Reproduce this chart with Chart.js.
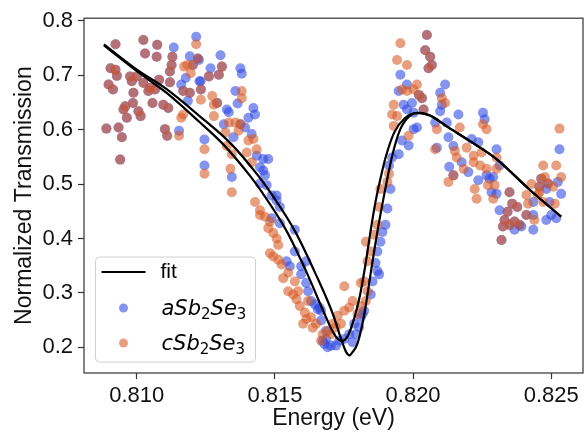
<!DOCTYPE html>
<html>
<head>
<meta charset="utf-8">
<script src="https://cdn.jsdelivr.net/npm/chart.js@4.4.0/dist/chart.umd.min.js"></script>
<style>
  html, body { margin: 0; padding: 0; background: #fff; }
  #wrap { width: 588px; height: 437px; }
</style>
</head>
<body>
<div id="wrap"><canvas id="chart" width="588" height="437"></canvas></div>
<script>
// axis ticks
const xTicks = [0.810, 0.815, 0.820, 0.825];
const yTicks = [0.2, 0.3, 0.4, 0.5, 0.6, 0.7, 0.8];

// points where both samples sit on top of each other
const sharedPoints = [
  [0.80890,0.602],[0.80923,0.757],[0.81024,0.765],[0.81074,0.756],[0.81030,0.740],
  [0.81072,0.734],[0.81129,0.734],[0.80905,0.713],[0.80923,0.710],[0.80928,0.699],
  [0.80898,0.683],[0.80914,0.674],[0.80976,0.698],[0.81000,0.698],[0.80982,0.689],
  [0.81024,0.686],[0.81048,0.677],[0.81066,0.674],[0.81042,0.671],[0.81120,0.687],
  [0.81126,0.719],[0.81120,0.707],[0.80988,0.668],[0.80986,0.649],[0.80958,0.643],
  [0.80952,0.637],[0.81006,0.634],[0.81014,0.625],[0.80964,0.622],[0.81057,0.649],
  [0.81096,0.646],[0.81114,0.640],[0.80934,0.604],[0.80946,0.586],[0.80940,0.545],
  [0.81102,0.601],[0.81110,0.589],[0.81081,0.692],
  [0.81203,0.719],[0.81221,0.731],[0.81168,0.671],[0.81192,0.668],[0.81232,0.674],
  [0.81308,0.716],[0.81261,0.698],[0.81297,0.701],[0.81291,0.649],[0.81375,0.610],
  [0.82050,0.774],[0.82044,0.746],[0.82062,0.734],[0.82068,0.719],[0.82056,0.713],
  [0.82032,0.658],[0.82021,0.664],[0.82038,0.637],[0.82146,0.516],[0.82342,0.449],
  [0.82359,0.464],[0.82377,0.458],[0.82331,0.434],[0.82367,0.431],[0.82385,0.425],
  [0.82349,0.425],[0.82325,0.422],[0.82320,0.397],[0.82410,0.443],[0.82349,0.485],
  [0.82464,0.510],[0.82489,0.501],[0.82457,0.495]
];

// aSb2Se3 only
const aPoints = [
  [0.81134,0.751],[0.81161,0.683],[0.81192,0.735],[0.81215,0.771],[0.81227,0.689],
  [0.81185,0.653],[0.81153,0.598],[0.81245,0.582],[0.81245,0.534],[0.81177,0.695],
  [0.81303,0.737],[0.81267,0.713],[0.81375,0.713],[0.81380,0.703],[0.81225,0.728],
  [0.81231,0.689],[0.81357,0.671],[0.81365,0.648],[0.81422,0.640],[0.81428,0.628],
  [0.81326,0.637],[0.81333,0.632],[0.81404,0.622],[0.81315,0.610],[0.81392,0.604],
  [0.81416,0.592],[0.81350,0.586],[0.81434,0.552],[0.81458,0.546],[0.81476,0.546],
  [0.81446,0.531],[0.81458,0.525],[0.81464,0.516],[0.81344,0.513],[0.81470,0.498],
  [0.81446,0.501],[0.81488,0.479],[0.81506,0.479],
  [0.81506,0.470],[0.81518,0.458],[0.81488,0.437],[0.81518,0.428],[0.81572,0.416],
  [0.81542,0.358],[0.81554,0.349],[0.81572,0.376],[0.81595,0.349],[0.81613,0.358],
  [0.81595,0.334],[0.81613,0.318],[0.81620,0.303],[0.81644,0.279],[0.81655,0.270],
  [0.81667,0.267],[0.81667,0.249],[0.81685,0.230],[0.81685,0.215],
  [0.81907,0.455],[0.81900,0.425],[0.81882,0.394],[0.81864,0.355],[0.81871,0.340],
  [0.81853,0.321],[0.81847,0.297],[0.81823,0.267],[0.81811,0.255],[0.81787,0.243],
  [0.81793,0.224],[0.81769,0.224],[0.81751,0.215],[0.81781,0.209],[0.81703,0.203],
  [0.81691,0.200],[0.81679,0.206],[0.81733,0.212],[0.81805,0.237],[0.81661,0.273],
  [0.81631,0.285],[0.81673,0.212],[0.81721,0.203],[0.81817,0.261],[0.81877,0.334],
  [0.81871,0.376],[0.81889,0.412],
  [0.81954,0.701],[0.81978,0.683],[0.81948,0.671],[0.81966,0.646],[0.81996,0.649],
  [0.81978,0.637],[0.82002,0.631],[0.82002,0.601],[0.82014,0.604],[0.81960,0.580],
  [0.81984,0.571],[0.81948,0.555],[0.81924,0.549],[0.81913,0.534],[0.81918,0.491],
  [0.82116,0.683],[0.82098,0.668],[0.82098,0.634],[0.82104,0.646],[0.82122,0.613],
  [0.82080,0.613],[0.82128,0.586],[0.82146,0.570],[0.82131,0.532],[0.82086,0.567],
  [0.82164,0.628],[0.82253,0.631],[0.82259,0.619],[0.82212,0.583],[0.82236,0.577],
  [0.82302,0.564],[0.82176,0.540],[0.82200,0.522],[0.82236,0.507],[0.82277,0.510],
  [0.82290,0.513],[0.82284,0.485],[0.82313,0.534],[0.82266,0.516],[0.82302,0.482],
  [0.82313,0.452],[0.82367,0.416],[0.82392,0.422],[0.82435,0.443],[0.82435,0.416],
  [0.82482,0.434],[0.82500,0.443],[0.82518,0.437],[0.82494,0.467],[0.82482,0.491],
  [0.82536,0.482],[0.82524,0.504],[0.82530,0.564],[0.82435,0.467]
];

// cSb2Se3 only
const cPoints = [
  [0.81215,0.757],[0.81161,0.622],[0.81168,0.628],[0.81232,0.655],[0.81153,0.589],
  [0.81245,0.564],[0.81245,0.519],[0.81171,0.716],[0.81183,0.719],[0.81195,0.704],
  [0.81380,0.671],[0.81380,0.658],[0.81273,0.662],[0.81279,0.646],[0.81279,0.625],
  [0.81333,0.613],[0.81357,0.613],[0.81368,0.598],[0.81321,0.595],[0.81404,0.580],
  [0.81422,0.583],[0.81434,0.564],[0.81398,0.558],[0.81326,0.570],[0.81344,0.555],
  [0.81416,0.540],[0.81339,0.528],[0.81344,0.485],
  [0.81428,0.467],[0.81446,0.452],[0.81446,0.443],[0.81464,0.440],[0.81482,0.431],
  [0.81476,0.419],[0.81494,0.410],[0.81506,0.400],[0.81512,0.388],[0.81482,0.373],
  [0.81494,0.367],[0.81512,0.361],[0.81524,0.352],[0.81530,0.327],[0.81548,0.337],
  [0.81572,0.321],[0.81548,0.303],[0.81566,0.297],[0.81578,0.288],[0.81584,0.303],
  [0.81590,0.276],[0.81608,0.264],[0.81614,0.252],[0.81602,0.243],[0.81631,0.255],
  [0.81637,0.236],[0.81649,0.243],[0.81620,0.285],
  [0.81877,0.458],[0.81871,0.425],[0.81859,0.407],[0.81829,0.394],[0.81835,0.358],
  [0.81847,0.376],[0.81823,0.321],[0.81811,0.318],[0.81751,0.312],[0.81835,0.303],
  [0.81781,0.285],[0.81769,0.273],[0.81811,0.276],[0.81751,0.267],[0.81799,0.261],
  [0.81727,0.258],[0.81739,0.243],[0.81709,0.243],[0.81721,0.237],[0.81691,0.230],
  [0.81673,0.224],[0.81667,0.212],[0.81703,0.224],[0.81829,0.285],
  [0.81954,0.759],[0.81942,0.728],[0.81978,0.719],[0.81930,0.646],[0.81960,0.674],
  [0.81978,0.671],[0.82002,0.674],[0.82014,0.683],[0.81924,0.628],[0.81942,0.625],
  [0.81930,0.607],[0.81984,0.589],[0.81913,0.519],[0.81882,0.491],[0.82086,0.601],
  [0.82116,0.649],[0.82104,0.658],[0.82080,0.564],[0.81907,0.504],
  [0.82169,0.604],[0.82253,0.610],[0.82266,0.601],[0.82151,0.561],[0.82194,0.567],
  [0.82302,0.549],[0.82128,0.504],[0.82183,0.528],[0.82158,0.549],[0.82219,0.540],
  [0.82243,0.534],[0.82266,0.528],[0.82223,0.491],[0.82230,0.473],[0.82271,0.498],
  [0.82295,0.498],[0.82290,0.473],[0.82302,0.528],[0.82248,0.558],[0.82219,0.552],
  [0.82410,0.480],[0.82416,0.464],[0.82439,0.434],[0.82428,0.500],[0.82457,0.485],
  [0.82471,0.534],[0.82477,0.513],[0.82518,0.534],[0.82536,0.513],[0.82507,0.495],
  [0.82513,0.464],[0.82530,0.602],[0.82471,0.467],[0.82451,0.480]
];

// fitted curves (one per sample)
const fitA = [
  [0.80881,0.755],[0.80999,0.708],[0.81107,0.668],[0.81225,0.615],[0.81313,0.573],
  [0.81410,0.515],[0.81453,0.485],[0.81543,0.413],[0.81618,0.334],[0.81679,0.262],
  [0.81710,0.228],[0.81728,0.215],[0.81742,0.211],[0.81756,0.215],[0.81772,0.230],
  [0.81806,0.291],[0.81828,0.353],[0.81846,0.413],[0.81864,0.467],[0.81882,0.510],
  [0.81900,0.548],[0.81932,0.595],[0.81968,0.620],[0.82014,0.631],[0.82061,0.626],
  [0.82122,0.606],[0.82212,0.577],[0.82302,0.546],[0.82419,0.491],[0.82536,0.440]
];
const fitC = [
  [0.80881,0.757],[0.80999,0.711],[0.81107,0.675],[0.81225,0.626],[0.81343,0.573],
  [0.81440,0.515],[0.81483,0.485],[0.81573,0.413],[0.81648,0.334],[0.81709,0.262],
  [0.81745,0.207],[0.81758,0.191],[0.81770,0.185],[0.81781,0.191],[0.81799,0.207],
  [0.81824,0.262],[0.81846,0.334],[0.81871,0.413],[0.81896,0.482],[0.81925,0.553],
  [0.81953,0.600],[0.81989,0.626],[0.82025,0.631],[0.82061,0.626],[0.82122,0.606],
  [0.82212,0.577],[0.82302,0.546],[0.82419,0.491],[0.82536,0.440]
];

const blue = 'rgba(45, 70, 225, 0.58)';
const orange = 'rgba(215, 90, 35, 0.58)';

const toXY = arr => arr.map(p => ({ x: p[0], y: p[1] }));

// frame around the plot + matplotlib-like legend
const frameLegend = {
  id: 'frameLegend',
  afterDatasetsDraw(chart) {
    const { ctx, chartArea: a } = chart;
    ctx.save();
    ctx.strokeStyle = '#333';
    ctx.lineWidth = 1.2;
    ctx.strokeRect(a.left, a.top, a.right - a.left, a.bottom - a.top);

    // legend box
    const bx = a.left + 11.5, by = a.bottom - 116, bw = 160, bh = 105;
    ctx.beginPath();
    ctx.roundRect(bx, by, bw, bh, 4);
    ctx.fillStyle = 'rgba(255,255,255,0.8)';
    ctx.fill();
    ctx.strokeStyle = '#d0d0d0';
    ctx.lineWidth = 1;
    ctx.stroke();

    // fit entry
    ctx.beginPath();
    ctx.moveTo(bx + 6, by + 15);
    ctx.lineTo(bx + 50, by + 15);
    ctx.strokeStyle = '#000';
    ctx.lineWidth = 2.2;
    ctx.stroke();
    ctx.fillStyle = '#000';
    ctx.textBaseline = 'middle';
    ctx.font = '21px "Liberation Sans", Arial, sans-serif';
    ctx.fillText('fit', bx + 65, by + 15);

    // marker entries
    const entries = [
      { color: blue, cy: by + 51, parts: [['aSb', false], ['2', true], ['Se', false], ['3', true]] },
      { color: orange, cy: by + 86, parts: [['cSb', false], ['2', true], ['Se', false], ['3', true]] }
    ];
    entries.forEach(e => {
      ctx.beginPath();
      ctx.arc(bx + 28, e.cy, 4.5, 0, Math.PI * 2);
      ctx.fillStyle = e.color;
      ctx.fill();
      let x = bx + 66;
      ctx.fillStyle = '#000';
      ctx.textBaseline = 'alphabetic';
      e.parts.forEach(([t, sub]) => {
        ctx.font = sub ? '15px "DejaVu Sans"' : 'italic 21px "DejaVu Sans"';
        ctx.fillText(t, x, sub ? e.cy + 11 : e.cy + 7);
        x += ctx.measureText(t).width;
      });
    });
    ctx.restore();
  }
};

new Chart(document.getElementById('chart'), {
  type: 'scatter',
  data: {
    datasets: [
      { label: 'fit', data: toXY(fitA), showLine: true, borderColor: '#000', borderWidth: 2.2,
        pointRadius: 0, cubicInterpolationMode: 'monotone', order: 0 },
      { label: 'fit', data: toXY(fitC), showLine: true, borderColor: '#000', borderWidth: 2.2,
        pointRadius: 0, cubicInterpolationMode: 'monotone', order: 0 },
      { label: 'cSb2Se3', data: toXY(sharedPoints.concat(cPoints)), backgroundColor: orange,
        borderWidth: 0, pointRadius: 5, order: 1 },
      { label: 'aSb2Se3', data: toXY(sharedPoints.concat(aPoints)), backgroundColor: blue,
        borderWidth: 0, pointRadius: 5, order: 2 }
    ]
  },
  options: {
    responsive: false,
    devicePixelRatio: 1,
    animation: false,
    layout: { padding: { top: 14, right: 1, left: 0, bottom: 0 } },
    plugins: { legend: { display: false }, tooltip: { enabled: false } },
    scales: {
      x: {
        type: 'linear',
        min: 0.80809,
        max: 0.82615,
        afterBuildTicks: s => { s.ticks = xTicks.map(v => ({ value: v })); },
        afterFit: s => { s.height = 64; },
        ticks: {
          callback: v => v.toFixed(3),
          font: { size: 22, family: '"Liberation Sans", Arial, sans-serif' },
          color: '#111',
          padding: 4
        },
        grid: { drawOnChartArea: false, tickLength: 6, color: '#333', tickWidth: 1.2 },
        border: { display: false },
        title: {
          display: true,
          text: 'Energy (eV)',
          font: { size: 23, family: '"Liberation Sans", Arial, sans-serif' },
          color: '#111',
          padding: { top: 0, bottom: 5 }
        }
      },
      y: {
        type: 'linear',
        min: 0.1526,
        max: 0.805,
        afterBuildTicks: s => { s.ticks = yTicks.map(v => ({ value: v })); },
        afterFit: s => { s.width = 84; },
        ticks: {
          callback: v => v.toFixed(1),
          font: { size: 22, family: '"Liberation Sans", Arial, sans-serif' },
          color: '#111',
          padding: 5
        },
        grid: { drawOnChartArea: false, tickLength: 6, color: '#333', tickWidth: 1.2 },
        border: { display: false },
        title: {
          display: true,
          text: 'Normalized Transmission',
          font: { size: 23, family: '"Liberation Sans", Arial, sans-serif' },
          color: '#111',
          padding: { top: 11, bottom: 0 }
        }
      }
    }
  },
  plugins: [frameLegend]
});
</script>
</body>
</html>
